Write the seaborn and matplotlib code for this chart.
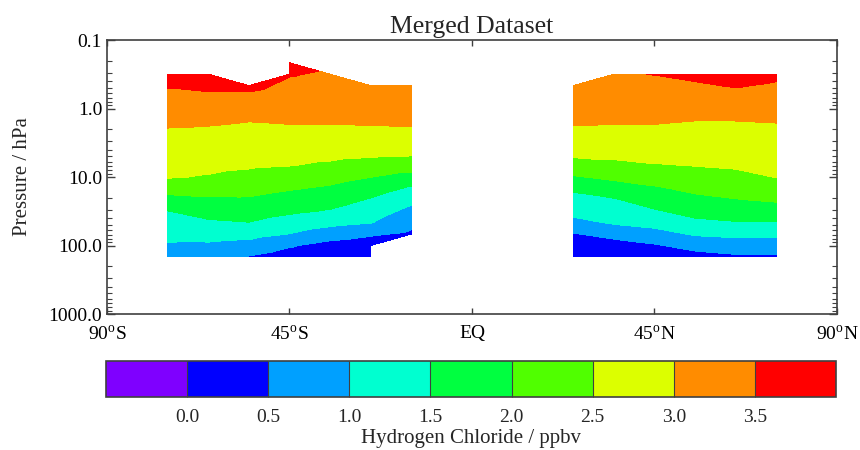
import numpy as np
import matplotlib
matplotlib.use("Agg")
import matplotlib.pyplot as plt
import matplotlib.tri as mtri
from matplotlib.colors import ListedColormap, BoundaryNorm
import seaborn as sns

# Latitude columns (degrees) of the zonal-mean grid
lats_south = [-75, -65, -55, -45, -35, -25, -15]
lats_north = [25, 35, 45, 55, 65, 75]

# Pressure levels (hPa), top to bottom
pressure_hpa = [0.215, 0.316, 0.464, 0.681, 1.0, 1.47, 2.15, 3.16, 4.64, 6.81,
                10.0, 14.7, 21.5, 31.6, 46.4, 68.1, 100.0, 147.0]

nan = np.nan
# HCl mixing ratio (ppbv): one row per latitude, one value per pressure level
hcl_south = [
    [nan, 3.68, 3.53, 3.39, 3.24, 3.10, 2.96, 2.85, 2.74, 2.64, 2.53, 2.20, 1.83, 1.49, 1.32, 1.15, 0.94, 0.48],
    [nan, 3.77, 3.59, 3.42, 3.25, 3.07, 2.94, 2.82, 2.71, 2.60, 2.47, 2.19, 1.91, 1.67, 1.43, 1.19, 0.92, 0.49],
    [nan, nan, 3.61, 3.41, 3.21, 3.02, 2.90, 2.78, 2.67, 2.55, 2.38, 2.16, 1.94, 1.72, 1.49, 1.17, 0.83, 0.47],
    [3.66, 3.53, 3.41, 3.29, 3.17, 3.05, 2.92, 2.78, 2.65, 2.51, 2.28, 2.04, 1.81, 1.58, 1.30, 0.99, 0.55, 0.25],
    [nan, 3.44, 3.34, 3.25, 3.15, 3.05, 2.93, 2.77, 2.61, 2.43, 2.17, 1.93, 1.70, 1.46, 1.14, 0.75, 0.32, 0.15],
    [nan, nan, 3.39, 3.28, 3.17, 3.07, 2.93, 2.75, 2.58, 2.32, 2.01, 1.73, 1.46, 1.23, 1.02, 0.57, 0.20, 0.10],
    [nan, nan, 3.40, 3.29, 3.18, 3.07, 2.94, 2.74, 2.55, 2.23, 1.83, 1.43, 1.13, 0.87, 0.64, 0.41, nan, nan],
]
hcl_north = [
    [nan, nan, 3.39, 3.28, 3.17, 3.07, 2.93, 2.75, 2.58, 2.31, 1.96, 1.58, 1.34, 1.14, 0.87, 0.46, 0.30, 0.15],
    [nan, 3.46, 3.36, 3.26, 3.16, 3.05, 2.92, 2.76, 2.60, 2.39, 2.10, 1.77, 1.46, 1.26, 1.05, 0.69, 0.26, 0.12],
    [nan, 3.51, 3.39, 3.28, 3.16, 3.05, 2.92, 2.77, 2.63, 2.47, 2.20, 1.94, 1.70, 1.45, 1.16, 0.83, 0.45, 0.20],
    [nan, 3.59, 3.45, 3.30, 3.15, 3.01, 2.88, 2.76, 2.64, 2.51, 2.31, 2.10, 1.89, 1.66, 1.39, 1.05, 0.68, 0.30],
    [nan, 3.70, 3.53, 3.36, 3.19, 3.01, 2.90, 2.78, 2.67, 2.55, 2.39, 2.19, 1.98, 1.73, 1.47, 1.11, 0.76, 0.42],
    [nan, 3.59, 3.45, 3.31, 3.17, 3.03, 2.92, 2.82, 2.71, 2.61, 2.51, 2.29, 2.06, 1.77, 1.47, 1.11, 0.76, 0.42],
]

# Contour intervals and their colours
contour_levels = [-0.5, 0.0, 0.5, 1.0, 1.5, 2.0, 2.5, 3.0, 3.5, 4.0]
level_colors = ["#7f00ff", "#0000ff", "#00a0ff", "#00ffd0", "#00ff40",
                "#50ff00", "#dcff00", "#ff8c00", "#ff0000"]
cbar_ticks = [0.0, 0.5, 1.0, 1.5, 2.0, 2.5, 3.0, 3.5]

lat_ticks = [-90, -45, 0, 45, 90]
lat_labels = [r"90$^{\rm o}$S", r"45$^{\rm o}$S", "EQ", r"45$^{\rm o}$N", r"90$^{\rm o}$N"]
p_ticks = [0.1, 1.0, 10.0, 100.0, 1000.0]
p_labels = ["0.1", "1.0", "10.0", "100.0", "1000.0"]

sns.set_theme(style="ticks")
plt.rcParams["font.family"] = ["Liberation Serif", "DejaVu Serif"]
plt.rcParams["mathtext.fontset"] = "custom"
plt.rcParams["mathtext.rm"] = "Liberation Serif"
plt.rcParams["axes.edgecolor"] = "#404040"


def build_mesh(lats, rows):
    """Points in (lat, log10 p) and triangles over the valid grid cells."""
    z = np.array(rows, dtype=float)
    logp = np.log10(pressure_hpa)
    idx = -np.ones(z.shape, dtype=int)
    xs, ys, vs = [], [], []
    for i, lat in enumerate(lats):
        for j, lp in enumerate(logp):
            if np.isfinite(z[i, j]):
                idx[i, j] = len(xs)
                xs.append(lat)
                ys.append(lp)
                vs.append(z[i, j])
    tris = []
    for i in range(len(lats) - 1):
        for j in range(len(logp) - 1):
            a, b, c, d = idx[i, j], idx[i + 1, j], idx[i + 1, j + 1], idx[i, j + 1]
            valid = [k for k in (a, b, c, d) if k >= 0]
            if len(valid) == 4:
                tris.append([a, b, c])
                tris.append([a, c, d])
            elif len(valid) == 3:
                tris.append(valid)
    return mtri.Triangulation(xs, ys, tris), np.array(vs)


fig = plt.figure(figsize=(8.6, 4.5), dpi=100)
ax = fig.add_axes([0.1244, 0.3022, 0.8488, 0.6089])
cmap = ListedColormap(sns.color_palette(level_colors))
norm = BoundaryNorm(contour_levels, cmap.N)

cs = None
for lats, rows in ((lats_south, hcl_south), (lats_north, hcl_north)):
    tri, vals = build_mesh(lats, rows)
    cs = ax.tricontourf(tri, vals, levels=contour_levels, cmap=cmap, norm=norm)

ax.set_xlim(-90, 90)
ax.set_ylim(np.log10(1000.0), np.log10(0.1))
ax.set_xticks(lat_ticks)
ax.set_xticklabels(lat_labels)
ax.set_yticks(np.log10(p_ticks))
ax.set_yticklabels(p_labels)
minor = [np.log10(m * 10.0 ** e) for e in range(-1, 3) for m in range(2, 10)]
ax.set_yticks(minor, minor=True)
ax.tick_params(axis="both", which="both", direction="in", top=True, right=True,
               colors="#404040", labelcolor="black", labelsize=14)
ax.tick_params(axis="y", which="major", length=6, width=1.0)
ax.tick_params(axis="y", which="minor", length=3.5, width=0.8)
ax.tick_params(axis="x", which="major", length=4, width=1.0, pad=8)
for s in ax.spines.values():
    s.set_linewidth(1.2)
ax.set_ylabel("Pressure / hPa", fontsize=15, labelpad=12)
ax.set_title("Merged Dataset", fontsize=18.5, pad=5)

cax = fig.add_axes([0.1233, 0.1178, 0.8488, 0.08])
cb = fig.colorbar(cs, cax=cax, orientation="horizontal", ticks=cbar_ticks,
                  drawedges=True)
cb.ax.minorticks_off()
cb.ax.set_xticklabels([f"{t:.1f}" for t in cbar_ticks])
cb.ax.tick_params(which="both", length=0, pad=9, labelsize=14)
cb.outline.set_edgecolor("#404040")
cb.outline.set_linewidth(1.2)
cb.dividers.set_color("#404040")
cb.dividers.set_linewidth(0.8)
cb.set_label("Hydrogen Chloride / ppbv", fontsize=15, labelpad=2)

fig.savefig("out.png", dpi=100)
